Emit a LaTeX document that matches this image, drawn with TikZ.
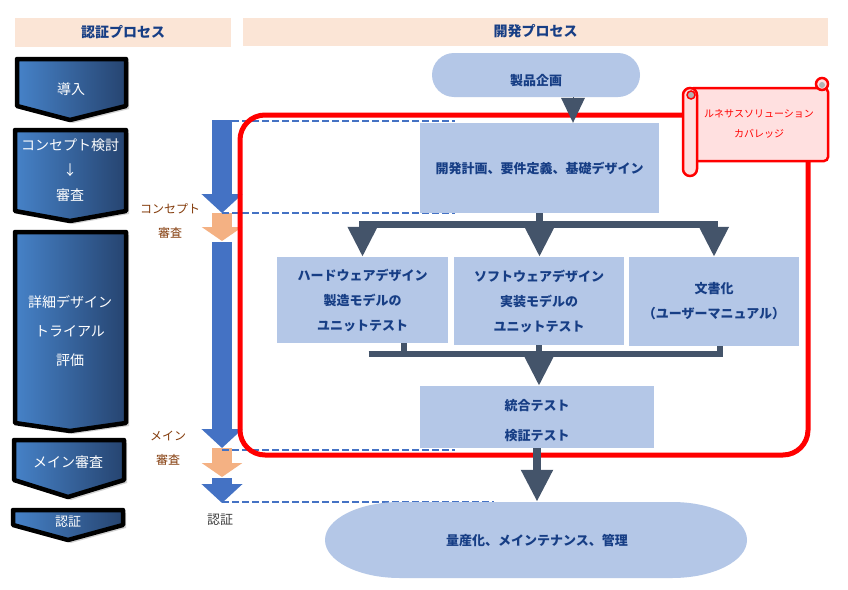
\documentclass[tikz,border=0pt]{standalone}
\usepackage{fontspec}
\setmainfont{Noto Sans CJK JP}
\usetikzlibrary{arrows.meta,shadows}
\definecolor{hdrfill}{RGB}{251,229,214}
\definecolor{boxfill}{RGB}{180,199,231}
\definecolor{boxtext}{RGB}{23,62,133}
\definecolor{devgray}{RGB}{68,84,106}
\definecolor{certblue}{RGB}{68,114,196}
\definecolor{reviewpeach}{RGB}{244,177,131}
\definecolor{labelbrown}{RGB}{132,60,12}
\definecolor{chevleft}{RGB}{70,130,200}
\definecolor{chevright}{RGB}{38,68,112}
\definecolor{scrollfill}{RGB}{255,224,224}
\begin{document}
\begin{tikzpicture}[x=1pt,y=-1pt,
	header/.style={fill=hdrfill,inner sep=0pt,font=\fontsize{14}{16}\selectfont\bfseries,text=boxtext},
	dev box/.style={fill=boxfill,inner sep=0pt,align=center,text=boxtext,font=\fontsize{13}{25}\selectfont\bfseries},
	chev/.style={draw=black,line width=4.5pt,line join=round,left color=chevleft,right color=chevright,drop shadow={shadow xshift=3pt,shadow yshift=-3pt,opacity=.35}},
	chev text/.style={text=white,align=center,font=\fontsize{14}{25}\selectfont},
	devline/.style={draw=devgray,line width=7pt},
	dev arrow/.style={devline,-{Triangle[width=28pt,length=30pt]}},
	cert arrow/.style={certblue,line width=20pt,-{Triangle[width=40pt,length=19pt]}},
	review arrow/.style={reviewpeach,line width=20pt,-{Triangle[width=40pt,length=14pt]}},
	dashline/.style={certblue,line width=2.5pt,dash pattern=on 7pt off 3pt},
	side label/.style={align=center,text=labelbrown,font=\fontsize{12}{24}\selectfont},
	scroll/.style={draw=red,fill=scrollfill,line width=2.5pt}]
	\useasboundingbox[fill=white] (0,0) rectangle (848,589);
	
	% headers
	\node[header,minimum width=216pt,minimum height=29pt] (certhead) at (123,32.5) {認証プロセス};
	\node[header,minimum width=585pt,minimum height=28pt] (devhead) at (535.5,31.5) {開発プロセス};
	
	% certification steps
	\draw[chev] (17,59) -- (126,59) -- (126,106) -- (70,120) -- (17,106) -- cycle;
	\node[chev text] (intro) at (71,89) {導入};
	\draw[chev] (15,130) -- (126,130) -- (126,211) -- (70,221) -- (15,211) -- cycle;
	\node[chev text] (concept step) at (70,170) {コンセプト検討\\↓\\審査};
	\draw[chev] (15,232) -- (126,232) -- (126,423) -- (70,431) -- (15,423) -- cycle;
	\node[chev text,font=\fontsize{14}{29}\selectfont] (detail step) at (70,331) {詳細デザイン\\トライアル\\評価};
	\draw[chev] (14,440) -- (124,440) -- (124,480) -- (68,497) -- (14,480) -- cycle;
	\node[chev text] (main step) at (68,462) {メイン審査};
	\draw[chev] (13,510) -- (123,510) -- (123,525) -- (68,540) -- (13,525) -- cycle;
	\node[chev text,font=\fontsize{13}{15}\selectfont] (cert step) at (68,522) {認証};
	
	% timeline
	\draw[cert arrow] (222,120) -- (222,213);
	\draw[review arrow] (222,213) -- (222,241);
	\draw[cert arrow] (222,242) -- (222,448);
	\draw[review arrow] (222,448) -- (222,477);
	\draw[cert arrow] (222,478) -- (222,503);
	\node[side label] (concept label) at (170,221) {コンセプト\\審査};
	\node[side label] (main label) at (168,448) {メイン\\審査};
	\node[text=black!75,font=\fontsize{13}{15}\selectfont] (cert label) at (220,520) {認証};
	
	\draw[dashline] (222,121) -- (455,121);
	\draw[dashline] (222,213) -- (455,213);
	\draw[dashline] (222,450) -- (455,450);
	\draw[dashline] (222,502) -- (494,502);
	
	\draw[red,line width=5pt,rounded corners=25pt] (240,115) rectangle (808,455);
	
	% development process
	\node[dev box,rounded corners=22pt,minimum width=208pt,minimum height=44pt,text height=20pt,text depth=0pt] (product) at (536,75) {製品企画};
	\node[dev box,minimum width=239pt,minimum height=90pt] (plan) at (539.5,168) {開発計画、要件定義、基礎デザイン};
	\node[dev box,minimum width=171pt,minimum height=86pt] (hw) at (362.5,300) {ハードウェアデザイン\\製造モデルの\\ユニットテスト};
	\node[dev box,minimum width=170pt,minimum height=88pt] (sw) at (539,301) {ソフトウェアデザイン\\実装モデルの\\ユニットテスト};
	\node[dev box,minimum width=170pt,minimum height=89pt] (doc) at (714,301.5) {文書化\\（ユーザーマニュアル）};
	\node[dev box,minimum width=234pt,minimum height=62pt] (test) at (537,417) {};
	\node[dev box,fill=none] (test text) at ([yshift=-4pt]test.center) {統合テスト\\[5pt]検証テスト};
	\fill[boxfill] (400,502) -- (672,502) arc[start angle=90,end angle=-90,x radius=75pt,y radius=38pt] -- (400,578) arc[start angle=270,end angle=90,x radius=75pt,y radius=38pt] -- cycle;
	\node[text=boxtext,font=\fontsize{13}{15}\selectfont\bfseries,minimum width=422pt,minimum height=76pt] (mass) at (537,540) {量産化、メインテナンス、管理};
	
	\draw[devline,line width=0pt,-{Triangle[width=24pt,length=25pt]}] ([xshift=37pt]product.south) -- ([xshift=37pt]product.south |- plan.north);
	
	\draw[devline] (plan.south) -- ++(0,11) coordinate (split);
	\draw[dev arrow] (split) -| (hw.north);
	\draw[dev arrow] (split) -- (split |- sw.north);
	\draw[dev arrow] (split) -| (doc.north);
	
	\coordinate (merge) at ([yshift=-9pt]sw.south);
	\draw[devline,line width=6pt] ([xshift=6pt]hw.south |- merge) -- (merge);
	\draw[devline,line width=6pt] ([xshift=41pt]hw.south) -- ([xshift=41pt]hw.south |- merge);
	\draw[devline,line width=6pt] ([xshift=6pt]doc.south) |- (merge);
	\draw[devline,line width=6pt] (sw.south) -- (merge);
	\draw[dev arrow] (merge) -- (merge |- test.north);
	\draw[devline,line width=8pt,-{Triangle[width=30pt,length=32pt]}] (test.south) -- (mass.north);
	
	% scroll note
	\draw[scroll,rounded corners=4pt] (690,88) -- (828,88) -- (828,161) -- (690,161) -- cycle;
	\draw[scroll] (822,84) circle[radius=6pt];
	\fill[gray!60] (822,85) circle[radius=3pt];
	\draw[scroll,rounded corners=7pt] (683,88) rectangle (697,176);
	\draw[red,line width=1.5pt,fill=gray!60] (691,95) circle[radius=4pt];
	\node[align=center,text=red,font=\fontsize{10}{20}\selectfont] (scope note) at (759,124) {ルネサスソリューション\\カバレッジ};
\end{tikzpicture}
\end{document}
